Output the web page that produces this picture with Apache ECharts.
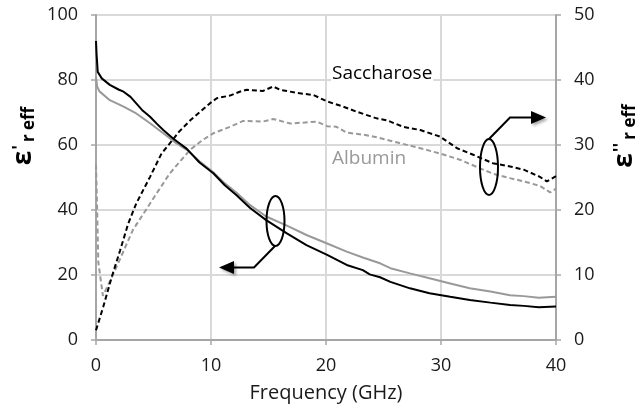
<!DOCTYPE html>
<html><head><meta charset="utf-8">
<script src="https://cdn.jsdelivr.net/npm/echarts@6/dist/echarts.min.js"></script>
<style>html,body{margin:0;padding:0;background:#fff}#c{width:642px;height:408px}</style>
</head><body><div id="c"></div>
<script>
// Frequency (GHz) / permittivity data
const sacchReal = [[0,92],[0.05,88],[0.15,82.5],[0.5,80.5],[1.2,78.5],[2,77],[2.4,76.4],[3,74.8],[3.5,72.8],[4,70.8],[4.7,68.7],[5.3,66.5],[5.85,64.6],[6.7,62],[7.9,58.8],[9,54.6],[10.2,51.3],[11.2,47.6],[12.2,44.6],[13.4,40.6],[14.8,36.9],[16.6,32.8],[18.3,29.2],[20.1,26.2],[21.8,23.1],[23.2,21.5],[23.8,20.2],[24.7,19.3],[25.6,17.9],[27.3,15.9],[29,14.4],[30.8,13.3],[32.5,12.3],[34.3,11.5],[36,10.8],[37.2,10.5],[38.5,10.1],[40,10.3]];
const albReal = [[0,81],[0.1,78],[0.3,76.5],[1.2,73.8],[2.4,71.8],[3.5,69.7],[4.7,66.7],[5.85,63.6],[7,60.5],[7.9,58.5],[9,55],[10.2,51.6],[11.2,48.2],[12.2,45.4],[13.4,41.5],[14.8,38],[16.6,35.2],[18.3,32.3],[20.1,29.7],[21.8,27.2],[23.2,25.4],[24.7,23.6],[25.6,22.1],[27.3,20.5],[29,19],[30.8,17.4],[32.5,15.9],[34.3,14.9],[36,13.8],[37.2,13.5],[38.5,13],[40,13.3]];
const sacchImag = [[0,1.5],[0.1,1.5],[0.63,5.1],[1.37,9.7],[2.1,13.8],[2.8,17.9],[3.5,21],[4.7,25.1],[5.7,28.7],[6.4,30.2],[7.2,32],[8.2,33.8],[9.9,36.4],[10.5,37.2],[11.65,37.6],[12.5,38.2],[13.1,38.5],[14.5,38.3],[15.4,39],[16,38.5],[17.5,38],[18.9,37.7],[20.1,36.7],[21.5,35.9],[22.7,35.1],[24.4,34.1],[25.3,33.8],[26.7,32.8],[28.2,32.3],[29.9,31.3],[31.4,29.5],[32.8,28.5],[34.5,27.2],[36,26.7],[37.2,26.2],[38.6,25.1],[39.2,24.4],[40,25.2]];
const albImag = [[0,27],[0.1,20],[0.2,12],[0.6,6.8],[1.2,9],[1.8,11.3],[3.2,16.9],[4.7,21],[6.4,25.6],[8.2,29.3],[9.3,30.8],[10.2,31.8],[11.65,32.8],[12.8,33.7],[14.5,33.6],[15.4,34],[16.9,33.3],[19.2,33.6],[20.1,32.9],[20.9,32.8],[21.8,31.9],[23.2,31.6],[24.4,31.2],[26.4,30.3],[28.2,29.5],[29.9,28.7],[31.7,27.7],[33.4,26.4],[34.5,25.6],[36,24.9],[37.2,24.4],[38.6,23.7],[39.5,22.7],[40,23.3]];
const xTitle = 'Frequency (GHz)';
const labelSacch = 'Saccharose';
const labelAlb = 'Albumin';

const FONT = 'Open Sans';
const chart = echarts.init(document.getElementById('c'), null, {renderer:'canvas'});
const axisCommon = {
  axisLine:{show:true,lineStyle:{color:'#a6a6a6',width:2}},
  axisTick:{show:true,inside:false,length:5,lineStyle:{color:'#a6a6a6',width:1.5}},
  axisLabel:{color:'#1a1a1a',fontFamily:FONT,fontSize:18},
};
const titleRich = {
  e:{fontFamily:FONT,fontSize:26,fontWeight:'bold',color:'#000'},
  p:{fontFamily:FONT,fontSize:18,fontWeight:'bold',color:'#000',verticalAlign:'top',padding:[0,3,8,1]},
  s:{fontFamily:FONT,fontSize:17,fontWeight:'bold',color:'#000',verticalAlign:'bottom',padding:[10,0,0,0]}
};
chart.setOption({
  animation:false,
  grid:{left:96,right:86,top:15,bottom:68,containLabel:false},
  xAxis:Object.assign({},axisCommon,{type:'value',min:0,max:40,interval:10,
    axisLabel:Object.assign({},axisCommon.axisLabel,{margin:17}),
    splitLine:{show:true,lineStyle:{color:'#d9d9d9',width:2}},
    name:xTitle,nameLocation:'middle',nameGap:43,
    nameTextStyle:{fontFamily:FONT,fontSize:20,color:'#1a1a1a'}}),
  yAxis:[
    Object.assign({},axisCommon,{type:'value',min:0,max:100,interval:20,position:'left',
      axisLabel:Object.assign({},axisCommon.axisLabel,{margin:18}),
      splitLine:{show:true,lineStyle:{color:'#d9d9d9',width:2}}}),
    Object.assign({},axisCommon,{type:'value',min:0,max:50,interval:10,position:'right',
      axisLabel:Object.assign({},axisCommon.axisLabel,{margin:18}),
      splitLine:{show:false}})
  ],
  series:[
    {name:'Albumin ε\'',type:'line',yAxisIndex:0,data:albReal,showSymbol:false,lineStyle:{color:'#999999',width:2},z:2},
    {name:'Saccharose ε\'',type:'line',yAxisIndex:0,data:sacchReal,showSymbol:false,lineStyle:{color:'#000000',width:2},z:3},
    {name:'Albumin ε\'\'',type:'line',yAxisIndex:1,data:albImag,showSymbol:false,lineStyle:{color:'#999999',width:2,type:[5,3]},z:2},
    {name:'Saccharose ε\'\'',type:'line',yAxisIndex:1,data:sacchImag,showSymbol:false,lineStyle:{color:'#000000',width:2,type:[5,3]},z:3}
  ],
  graphic:[
    {type:'text',left:331,top:64,z:20,style:{text:labelSacch,fontFamily:FONT,fontSize:19,fill:'#000',backgroundColor:'#fff',padding:[0,1]}},
    {type:'text',left:331,top:149,z:20,style:{text:labelAlb,fontFamily:FONT,fontSize:19,fill:'#999',backgroundColor:'#fff',padding:[0,1]}},
    // left annotation
    {type:'ellipse',shape:{cx:275.5,cy:221,rx:9,ry:25},style:{fill:'none',stroke:'#000',lineWidth:2},z:10},
    {type:'polyline',shape:{points:[[275,246],[254,267.5],[232,267.5]]},style:{stroke:'#000',lineWidth:2,fill:null},z:10},
    {type:'polygon',shape:{points:[[219,267.5],[234,261],[234,274]]},style:{fill:'#000',shadowBlur:3,shadowOffsetX:2,shadowOffsetY:2,shadowColor:'rgba(0,0,0,0.35)'},z:10},
    // right annotation
    {type:'ellipse',shape:{cx:489,cy:167,rx:9,ry:28},style:{fill:'none',stroke:'#000',lineWidth:2},z:10},
    {type:'polyline',shape:{points:[[489,139],[510,117.5],[533,117.5]]},style:{stroke:'#000',lineWidth:2,fill:null},z:10},
    {type:'polygon',shape:{points:[[546,117.5],[531,111],[531,124]]},style:{fill:'#000',shadowBlur:3,shadowOffsetX:2,shadowOffsetY:2,shadowColor:'rgba(0,0,0,0.35)'},z:10},
    // axis titles
    {type:'text',x:24,y:136,rotation:Math.PI/2,style:{text:'{e|ε}{p|\'}{s|r eff}',rich:titleRich,align:'center',verticalAlign:'middle'}},
    {type:'text',x:625,y:136,rotation:Math.PI/2,style:{text:'{e|ε}{p|\'\'}{s|r eff}',rich:titleRich,align:'center',verticalAlign:'middle'}}
  ]
});
</script></body></html>
